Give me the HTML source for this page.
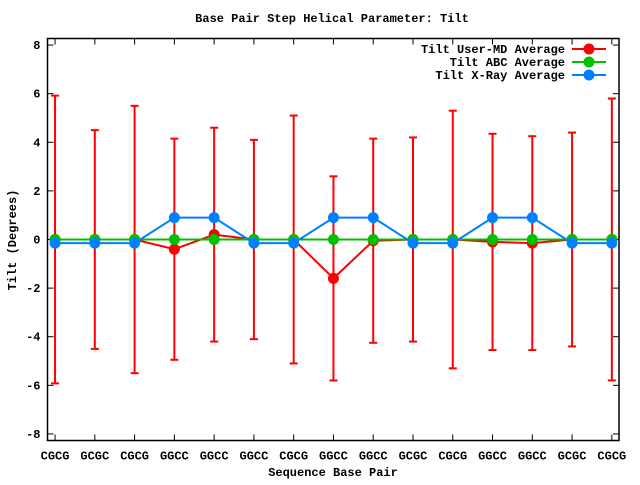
<!DOCTYPE html>
<html><head><meta charset="utf-8"><style>
body{margin:0;background:#fff}
svg text{font-family:"Liberation Mono",monospace;font-weight:bold;font-size:12px;fill:#000}
</style></head><body>
<svg id="chart" width="640" height="480" xmlns="http://www.w3.org/2000/svg">
<rect width="640" height="480" fill="#fff"/>
<text x="332" y="22" text-anchor="middle">Base Pair Step Helical Parameter: Tilt</text>
<text x="333" y="476" text-anchor="middle">Sequence Base Pair</text>
<text transform="translate(16,240) rotate(-90)" text-anchor="middle">Tilt (Degrees)</text>
<g id="axes"></g>
<g id="marks"></g>
<g id="legend"></g>
</svg>
<script>
const categories=["CGCG","GCGC","CGCG","GGCC","GGCC","GGCC","CGCG","GGCC","GGCC","GCGC","CGCG","GGCC","GGCC","GCGC","CGCG"];
const userMD=[0,0,0,-0.4,0.2,0,0,-1.6,-0.05,0,0,-0.1,-0.15,0,0];
const userErr=[5.92,4.5,5.5,4.55,4.4,4.1,5.1,4.2,4.2,4.2,5.3,4.45,4.4,4.4,5.8];
const abc=[0,0,0,0,0,0,0,0,0,0,0,0,0,0,0];
const xray=[-0.15,-0.15,-0.15,0.9,0.9,-0.15,-0.15,0.9,0.9,-0.15,-0.15,0.9,0.9,-0.15,-0.15];
const yTicks=[-8,-6,-4,-2,0,2,4,6,8];
const L=47.5,R=619,T=38.5,B=440.5;
const xd=[-0.19,14.18],yd=[-8.27,8.27];
const X=i=>L+(i-xd[0])/(xd[1]-xd[0])*(R-L);
const Y=v=>B-(v-yd[0])/(yd[1]-yd[0])*(B-T);
const NS="http://www.w3.org/2000/svg";
function mk(tag,at,parent){const e=document.createElementNS(NS,tag);for(const k in at)e.setAttribute(k,at[k]);parent.appendChild(e);return e;}
const axes=document.getElementById('axes'),marks=document.getElementById('marks'),legend=document.getElementById('legend');
const frame=mk('rect',{x:L,y:T,width:R-L,height:B-T,fill:'none',stroke:'#000','stroke-width':1.5},axes);


yTicks.forEach(v=>{
  const y=Y(v);
  mk('line',{x1:L,x2:L+6,y1:y,y2:y,stroke:'#000'},axes);
  mk('line',{x1:R,x2:R-6,y1:y,y2:y,stroke:'#000'},axes);
  const t=mk('text',{x:L-7,y:y+4,'text-anchor':'end'},axes);
  t.textContent=v;
  
  
});
categories.forEach((c,i)=>{
  const x=X(i);
  mk('line',{x1:x,x2:x,y1:B,y2:B-6,stroke:'#000'},axes);
  mk('line',{x1:x,x2:x,y1:T,y2:T+6,stroke:'#000'},axes);
  const t=mk('text',{x:x,y:B+19,'text-anchor':'middle'},axes);
  t.textContent=c;
  
  
});
// error bars
userMD.forEach((v,i)=>{
  const x=X(i),y1=Y(v+userErr[i]),y2=Y(v-userErr[i]);
  const g=mk('g',{stroke:'#f00','stroke-width':2},marks);
  
  
  mk('line',{x1:x,x2:x,y1:y1,y2:y2},g);
  mk('line',{x1:x-4,x2:x+4,y1:y1,y2:y1},g);
  mk('line',{x1:x-4,x2:x+4,y1:y2,y2:y2},g);
});
function series(vals,color,name){
  const g=mk('g',{},marks);
  
  
  mk('polyline',{points:vals.map((v,i)=>X(i)+','+Y(v)).join(' '),fill:'none',stroke:color,'stroke-width':2},g);
  vals.forEach((v,i)=>{
    const c=mk('circle',{cx:X(i),cy:Y(v),r:5.5,fill:color},g);
    
    
  });
}
series(userMD,'#f00','user-md-series');
series(abc,'#00c000','abc-series');
series(xray,'#0080ff','xray-series');
[["Tilt User-MD Average",'#f00'],["Tilt ABC Average",'#00c000'],["Tilt X-Ray Average",'#0080ff']].forEach((d,k)=>{
  const y=49+k*13;
  const g=mk('g',{},legend);
  
  
  const t=mk('text',{x:565,y:y+4,'text-anchor':'end'},g);
  t.textContent=d[0];
  mk('line',{x1:572,x2:606,y1:y,y2:y,stroke:d[1],'stroke-width':2},g);
  mk('circle',{cx:589,cy:y,r:5.5,fill:d[1]},g);
});
</script>
</body></html>
